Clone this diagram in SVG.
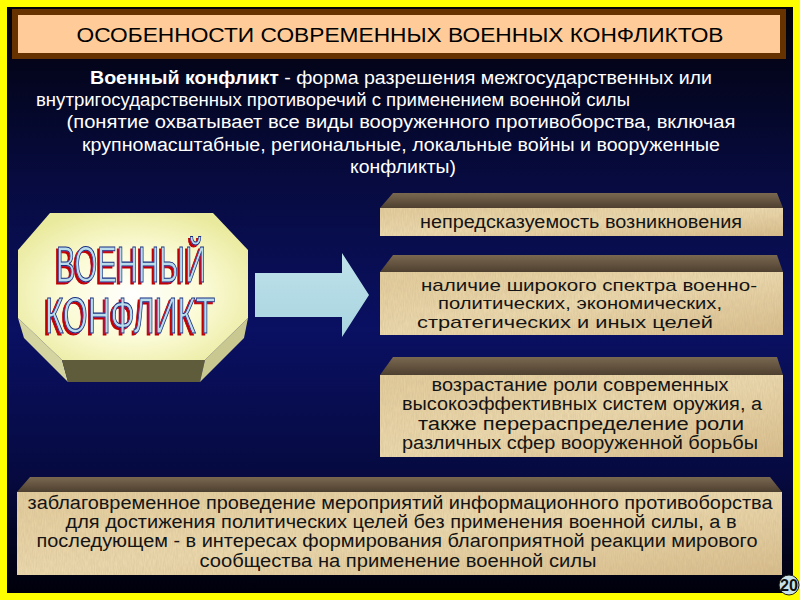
<svg xmlns="http://www.w3.org/2000/svg" width="800" height="600" viewBox="0 0 800 600">
<defs>
<linearGradient id="bg" x1="0" y1="0" x2="0" y2="1">
<stop offset="0" stop-color="#02020a"/>
<stop offset="0.3" stop-color="#070b40"/>
<stop offset="0.55" stop-color="#0a1062"/>
<stop offset="0.8" stop-color="#060a40"/>
<stop offset="1" stop-color="#00000a"/>
</linearGradient>
<linearGradient id="paper" x1="0" y1="0" x2="1" y2="1">
<stop offset="0" stop-color="#e6cf9e"/>
<stop offset="0.5" stop-color="#efdcb0"/>
<stop offset="1" stop-color="#dcc08e"/>
</linearGradient>
<linearGradient id="topface" x1="0" y1="0" x2="0" y2="1">
<stop offset="0" stop-color="#7a6850"/>
<stop offset="1" stop-color="#4e4030"/>
</linearGradient>
<radialGradient id="octface" cx="0.5" cy="0.55" r="0.6">
<stop offset="0" stop-color="#ffffff"/>
<stop offset="0.5" stop-color="#fbfbd8"/>
<stop offset="1" stop-color="#eaea9e"/>
</radialGradient>
<linearGradient id="arrowg" x1="0" y1="0" x2="0" y2="1">
<stop offset="0" stop-color="#bfe2ea"/>
<stop offset="1" stop-color="#a8d4e0"/>
</linearGradient>
<filter id="grain" x="0" y="0" width="1" height="1">
<feTurbulence type="fractalNoise" baseFrequency="0.9 0.15" numOctaves="2" seed="3" result="n"/>
<feColorMatrix in="n" type="matrix" values="0 0 0 0 0.45  0 0 0 0 0.35  0 0 0 0 0.2  0 0 0 0.35 0" result="c"/>
<feComposite in="c" in2="SourceGraphic" operator="in" result="t"/>
<feMerge><feMergeNode in="SourceGraphic"/><feMergeNode in="t"/></feMerge>
</filter>
<filter id="redshadow" x="-0.1" y="-0.1" width="1.2" height="1.3">
<feOffset in="SourceAlpha" dx="-2" dy="2" result="o"/>
<feFlood flood-color="#c00000"/>
<feComposite in2="o" operator="in" result="s"/>
<feMerge><feMergeNode in="s"/><feMergeNode in="SourceGraphic"/></feMerge>
</filter>
</defs>
<style>
.def{font-family:"Liberation Sans","Arial",sans-serif;font-size:18px;fill:#ffffff;text-anchor:middle}
.box{font-family:"Liberation Sans","Arial",sans-serif;font-size:18px;fill:#141414;text-anchor:middle}
.box.s{font-size:17px}
.front{fill:url(#paper);filter:url(#grain)}
.top{fill:url(#topface)}
.wa{font-family:"Liberation Sans","Arial",sans-serif;font-size:50px;text-anchor:middle;fill:#b8dcec;stroke:#1a2f80;stroke-width:1.1}
</style>
<rect width="800" height="600" fill="#ffff00"/>
<rect x="7" y="7" width="786" height="586" fill="url(#bg)"/>

<g id="title">
<rect x="12" y="9" width="774" height="50" fill="#663300"/>
<rect x="18" y="15" width="762" height="38" fill="#ffcc99"/>
<text x="400" y="42" font-family="Liberation Sans, Arial, sans-serif" font-size="20" fill="#000" text-anchor="middle" textLength="647" lengthAdjust="spacingAndGlyphs">ОСОБЕННОСТИ СОВРЕМЕННЫХ ВОЕННЫХ КОНФЛИКТОВ</text>
</g>

<g id="definition">
<text class="def" x="401" y="84" textLength="622" lengthAdjust="spacingAndGlyphs"><tspan font-weight="bold">Военный конфликт</tspan> - форма разрешения межгосударственных или</text>
<text class="def" x="333" y="106" textLength="594" lengthAdjust="spacingAndGlyphs">внутригосударственных противоречий с применением военной силы</text>
<text class="def" x="401" y="128" textLength="669" lengthAdjust="spacingAndGlyphs">(понятие охватывает все виды вооруженного противоборства, включая</text>
<text class="def" x="401" y="151" textLength="638" lengthAdjust="spacingAndGlyphs">крупномасштабные, региональные, локальные войны и вооруженные</text>
<text class="def" x="403" y="173" textLength="106" lengthAdjust="spacingAndGlyphs">конфликты)</text>
</g>

<g id="military-conflict">
<polygon points="18,318 62,360 68,382 24,338" fill="#d4d4a0"/>
<polygon points="62,360 205,360 200,382 68,382" fill="#5e5c3a"/>
<polygon points="205,360 248,318 244,338 200,382" fill="#c8c890"/>
<polygon points="50,213 213,213 248,250 248,318 205,360 62,360 18,318 18,250" fill="url(#octface)"/>
<g filter="url(#redshadow)">
<text class="wa" x="131" y="282" textLength="150" lengthAdjust="spacingAndGlyphs">ВОЕННЫЙ</text>
<text class="wa" x="130" y="333" textLength="170" lengthAdjust="spacingAndGlyphs">КОНФЛИКТ</text>
</g>
</g>

<g id="connectors">
<polygon points="255,273 342,273 342,253 369,295 342,337 342,317 255,317" fill="url(#arrowg)"/>
</g>

<g id="feature-1">
<polygon class="top" points="393,193 777,193 783,208 380,208"/>
<rect class="front" x="380" y="208" width="403" height="28"/>
<text class="box" x="581" y="228" textLength="322" lengthAdjust="spacingAndGlyphs">непредсказуемость возникновения</text>
</g>

<g id="feature-2">
<polygon class="top" points="393,255 777,255 783,272 380,272"/>
<rect class="front" x="380" y="272" width="403" height="63"/>
<text class="box s" x="589" y="291" textLength="336" lengthAdjust="spacingAndGlyphs">наличие широкого спектра военно-</text>
<text class="box s" x="580" y="309" textLength="284" lengthAdjust="spacingAndGlyphs">политических, экономических,</text>
<text class="box s" x="565" y="328" textLength="296" lengthAdjust="spacingAndGlyphs">стратегических и иных целей</text>
</g>

<g id="feature-3">
<polygon class="top" points="393,357 777,357 783,375 380,375"/>
<rect class="front" x="380" y="375" width="403" height="82"/>
<text class="box" x="580" y="391" textLength="297" lengthAdjust="spacingAndGlyphs">возрастание роли современных</text>
<text class="box" x="582" y="410" textLength="360" lengthAdjust="spacingAndGlyphs">высокоэффективных систем оружия, а</text>
<text class="box" x="581" y="430" textLength="326" lengthAdjust="spacingAndGlyphs">также перераспределение роли</text>
<text class="box" x="580" y="449" textLength="356" lengthAdjust="spacingAndGlyphs">различных сфер вооруженной борьбы</text>
</g>

<g id="feature-4">
<polygon class="top" points="30,477 770,477 782,492 17,492"/>
<rect class="front" x="17" y="492" width="765" height="83"/>
<text class="box" x="400" y="509" textLength="745" lengthAdjust="spacingAndGlyphs">заблаговременное проведение мероприятий информационного противоборства</text>
<text class="box" x="401" y="528" textLength="671" lengthAdjust="spacingAndGlyphs">для достижения политических целей без применения военной силы, а в</text>
<text class="box" x="397" y="547" textLength="721" lengthAdjust="spacingAndGlyphs">последующем - в интересах формирования благоприятной реакции мирового</text>
<text class="box" x="398" y="567" textLength="397" lengthAdjust="spacingAndGlyphs">сообщества на применение военной силы</text>
</g>

<g id="page-number">
<circle cx="789" cy="585" r="10" fill="#c8e2e8" stroke="#1a1a1a" stroke-width="1"/>
<text x="789" y="591" font-family="Liberation Sans, Arial, sans-serif" font-size="16" font-weight="bold" fill="#111" text-anchor="middle" textLength="18" lengthAdjust="spacingAndGlyphs">20</text>
</g>
</svg>
